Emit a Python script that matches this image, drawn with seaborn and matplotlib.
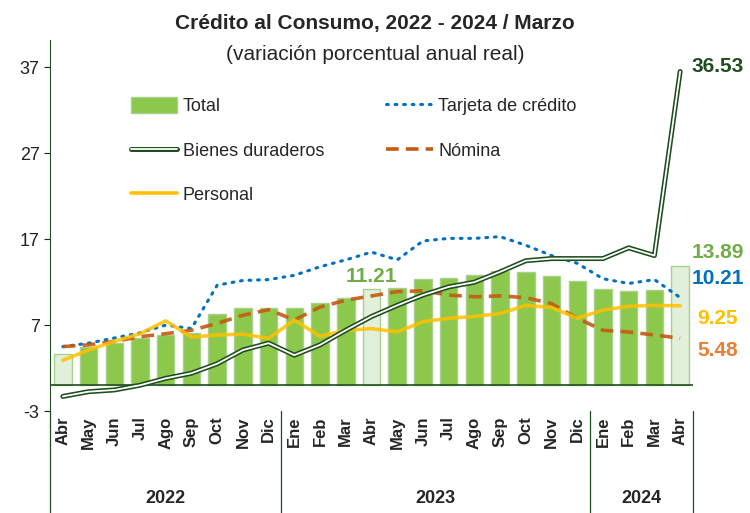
import pandas as pd
import seaborn as sns
import matplotlib.pyplot as plt
import matplotlib.patheffects as pe
from matplotlib.patches import Patch
from matplotlib.lines import Line2D

# ---- data ----
meses = ['Abr', 'May', 'Jun', 'Jul', 'Ago', 'Sep', 'Oct', 'Nov', 'Dic',
         'Ene', 'Feb', 'Mar', 'Abr', 'May', 'Jun', 'Jul', 'Ago', 'Sep', 'Oct', 'Nov', 'Dic',
         'Ene', 'Feb', 'Mar', 'Abr']
anios = ['2022'] * 9 + ['2023'] * 12 + ['2024'] * 4
total = [3.6, 4.5, 4.9, 5.5, 5.9, 6.1, 8.3, 9.0, 9.05, 9.0, 9.6, 10.1, 11.21,
         11.3, 12.4, 12.5, 12.8, 13.3, 13.2, 12.7, 12.1, 11.15, 10.95, 11.07, 13.89]
tarjeta = [4.5, 4.9, 5.5, 6.1, 7.0, 6.6, 11.65, 12.2, 12.3, 12.8, 13.8, 14.6, 15.5,
           14.6, 16.8, 17.1, 17.1, 17.3, 16.3, 15.1, 14.2, 12.4, 11.85, 12.3, 10.21]
bienes = [-1.3, -0.75, -0.55, 0.0, 0.8, 1.4, 2.5, 4.1, 4.9, 3.5, 4.7, 6.4, 8.0,
          9.3, 10.5, 11.45, 12.0, 13.2, 14.5, 14.75, 14.75, 14.75, 16.0, 15.1, 36.53]
nomina = [4.5, 4.7, 5.1, 5.65, 6.0, 6.4, 7.2, 8.15, 8.8, 7.6, 9.1, 9.9, 10.4,
          10.9, 11.0, 10.5, 10.3, 10.4, 10.2, 9.5, 7.8, 6.4, 6.2, 5.85, 5.48]
personal = [2.9, 4.1, 5.1, 6.0, 7.5, 5.6, 5.85, 5.95, 5.45, 7.6, 5.7, 6.4, 6.6,
            6.2, 7.4, 7.8, 8.0, 8.35, 9.3, 9.05, 7.8, 8.75, 9.2, 9.3, 9.25]

df = pd.DataFrame({'periodo': [f'{m}-{a}' for m, a in zip(meses, anios)],
                   'mes': meses, 'anio': anios, 'total': total,
                   'tarjeta': tarjeta, 'bienes': bienes,
                   'nomina': nomina, 'personal': personal})
df['i'] = range(len(df))

# ---- style ----
sns.set_style('white')
plt.rcParams['font.family'] = ['Liberation Sans', 'DejaVu Sans']
plt.rcParams['axes.unicode_minus'] = False

verde_bar = '#8CC84B'
verde_claro = '#E2EFDA'
verde_osc = '#1E4D1E'
azul = '#0070C0'
naranja = '#C55A11'
amarillo = '#FFC000'

fig = plt.figure(figsize=(7.5, 5.13), dpi=100)
ax = fig.add_axes([50 / 750, 1 - 411 / 513, 643 / 750, 371 / 513])

bar_cols = [verde_claro if m == 'Abr' else verde_bar for m in meses]
sns.barplot(data=df, x='periodo', y='total', hue='periodo', palette=bar_cols,
            width=0.68, legend=False, ax=ax, saturation=1,
            edgecolor='#A9D18E', linewidth=1)

# lines
sns.lineplot(data=df, x='i', y='tarjeta', ax=ax, color=azul, lw=2.2,
             linestyle=(0, (0.6, 2.2)), dash_capstyle='round', zorder=4)
sns.lineplot(data=df, x='i', y='nomina', ax=ax, color=naranja, lw=2.6,
             linestyle=(0, (3.5, 2)), alpha=0.9, zorder=4)
sns.lineplot(data=df, x='i', y='personal', ax=ax, color=amarillo, lw=2.6,
             alpha=0.85, zorder=4)
sns.lineplot(data=df, x='i', y='bienes', ax=ax, color='white', lw=1.3, zorder=5,
             path_effects=[pe.Stroke(linewidth=3.6, foreground=verde_osc), pe.Normal()])

ax.axhline(0, color=verde_osc, lw=1.2, zorder=3)

ax.set_xlim(-0.5, 24.5)
ax.set_ylim(-3, 40.2)
ax.set_yticks([-3, 7, 17, 27, 37])
ax.tick_params(axis='y', labelsize=13, colors='#222222', length=4,
               width=0.8, left=True, direction='out')
ax.tick_params(axis='x', length=0, pad=4)
ax.set_xticks(df['i'])
ax.set_xticklabels(meses, rotation=90, fontsize=12, fontweight='bold')
ax.set_xlabel('')
ax.set_ylabel('')
for s in ['top', 'right', 'bottom']:
    ax.spines[s].set_visible(False)
ax.spines['left'].set_color(verde_osc)
ax.spines['left'].set_bounds(-3, 40.2)

# year groups below the axis
trans = ax.get_xaxis_transform()
for xsep in [-0.5, 8.5, 20.5, 24.5]:
    ax.plot([xsep, xsep], [0, -0.285], transform=trans, color=verde_osc,
            lw=0.9, clip_on=False)
for a, xc in [('2022', 4), ('2023', 14.5), ('2024', 22.5)]:
    ax.text(xc, -0.235, a, transform=trans, ha='center', va='center',
            fontsize=13, fontweight='bold')

# value labels
ax.text(12, 11.6, '11.21', ha='center', va='bottom', fontsize=15,
        fontweight='bold', color='#70AD47')
xl = 718 / 750
for txt, ypx, col in [('36.53', 67, verde_osc), ('13.89', 253, '#70AD47'),
                      ('10.21', 278, azul), ('9.25', 318, amarillo),
                      ('5.48', 350, '#ED7D31')]:
    fig.text(xl, 1 - ypx / 513, txt, ha='center', va='center', fontsize=15,
             fontweight='bold', color=col)

# legend
handles = [
    Patch(facecolor=verde_bar, edgecolor='#A9D18E', label='Total'),
    Line2D([], [], color='white', lw=1.3, label='Bienes duraderos',
           path_effects=[pe.Stroke(linewidth=3.6, foreground=verde_osc), pe.Normal()]),
    Line2D([], [], color=amarillo, lw=2.6, label='Personal'),
    Line2D([], [], color=azul, lw=2.2, linestyle=(0, (0.6, 2.2)),
           dash_capstyle='round', label='Tarjeta de crédito'),
    Line2D([], [], color=naranja, lw=2.6, linestyle=(0, (3.5, 2)), label='Nómina'),
]
ax.legend(handles=handles, ncol=2, loc='upper left', bbox_to_anchor=(0.1, 0.89),
          frameon=False, fontsize=13, handlelength=2.6, columnspacing=3.4,
          labelspacing=1.45, handletextpad=0.3, handleheight=1.0)

fig.text(0.5, 0.955, 'Crédito al Consumo, 2022 - 2024 / Marzo', ha='center',
         va='center', fontsize=15, fontweight='bold')
fig.text(0.5, 0.893, '(variación porcentual anual real)', ha='center',
         va='center', fontsize=15)

fig.savefig('out.png', dpi=100)
